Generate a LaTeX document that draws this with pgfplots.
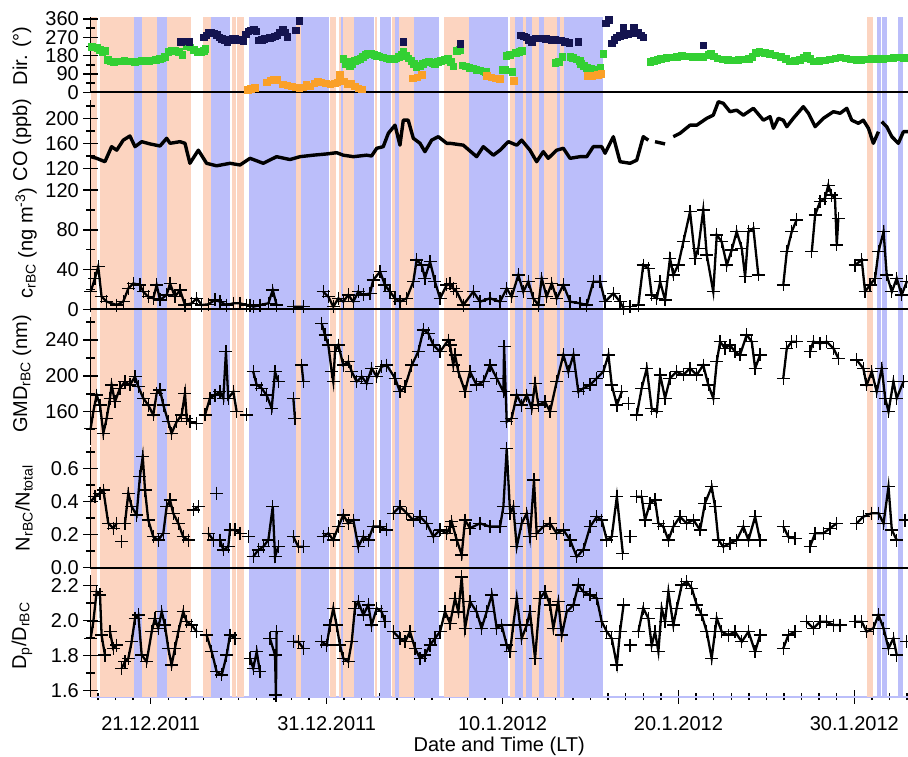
\documentclass[border=0pt]{standalone}
\usepackage{fontspec}
\setmainfont{Liberation Sans}
\usepackage{pgfplots}
\pgfplotsset{compat=1.18}
\definecolor{peach}{RGB}{252,212,192}
\definecolor{lav}{RGB}{187,190,250}
\definecolor{dgreen}{RGB}{51,208,51}
\definecolor{navy}{RGB}{20,20,80}
\definecolor{dorange}{RGB}{250,160,40}
\pgfplotsset{
  panel/.style={scale only axis, width=817.5pt, anchor=south west,
    xmin=-3.42, xmax=43.05, axis x line=none, axis y line*=left,
    y axis line style={line width=1.8pt,-}, tick style={black,line width=1.5pt},
    tick align=center, major tick length=14pt, minor tick length=9pt, clip=false,
    /pgf/number format/assume math mode=true,
    yticklabel style={anchor=east, inner sep=0pt, xshift=-4.5pt}},
  ser/.style={black, line width=2.3pt, mark=+, mark size=6.5pt,
    mark options={line width=1.3pt}, unbounded coords=jump},
  dirm/.style={only marks, mark=square*, mark size=3.3pt, mark options={draw=none}},
}
\begin{document}
\fontsize{20}{24}\selectfont
\begin{tikzpicture}
\path[use as bounding box] (0pt,0pt) rectangle (908pt,757pt);
% x axis
\begin{axis}[scale only axis, width=817.5pt, height=600pt, at={(90.5pt,60.3pt)}, anchor=south west,
  xmin=-3.42, xmax=43.05, ymin=0, ymax=1, axis y line=none, axis x line*=bottom,
  x axis line style={draw=lav, line width=2pt, -},
  xtick={0,10,20,30,40}, xticklabels={21.12.2011,31.12.2011,10.1.2012,20.1.2012,30.1.2012},
  minor xtick={-3,-2,...,43}, tick align=center, major tick length=14pt, minor tick length=7pt,
  tick style={black, line width=1.4pt},
  xticklabel style={anchor=north, yshift=-6pt},
  xlabel={Date and Time (LT)}, xlabel style={yshift=7pt}]
\end{axis}
% shading
\begin{axis}[scale only axis, width=817.5pt, height=679.7pt, at={(90.5pt,60.3pt)}, anchor=south west,
  xmin=-3.42, xmax=43.05, ymin=0, ymax=1, axis lines=none]
\addplot[fill=peach, draw=none] coordinates {(-3.38,1)(-3.05,1)} \closedcycle;
\addplot[fill=peach, draw=none] coordinates {(-2.88,1)(-0.95,1)} \closedcycle;
\addplot[fill=lav, draw=none] coordinates {(-0.95,1)(-0.50,1)} \closedcycle;
\addplot[fill=peach, draw=none] coordinates {(-0.50,1)(0.36,1)} \closedcycle;
\addplot[fill=lav, draw=none] coordinates {(0.36,1)(0.93,1)} \closedcycle;
\addplot[fill=peach, draw=none] coordinates {(0.93,1)(2.29,1)} \closedcycle;
\addplot[fill=peach, draw=none] coordinates {(2.97,1)(3.41,1)} \closedcycle;
\addplot[fill=lav, draw=none] coordinates {(3.41,1)(4.51,1)} \closedcycle;
\addplot[fill=peach, draw=none] coordinates {(4.64,1)(4.83,1)} \closedcycle;
\addplot[fill=peach, draw=none] coordinates {(4.91,1)(5.29,1)} \closedcycle;
\addplot[fill=lav, draw=none] coordinates {(5.59,1)(8.26,1)} \closedcycle;
\addplot[fill=peach, draw=none] coordinates {(8.26,1)(8.55,1)} \closedcycle;
\addplot[fill=lav, draw=none] coordinates {(8.55,1)(10.12,1)} \closedcycle;
\addplot[fill=peach, draw=none] coordinates {(10.21,1)(10.55,1)} \closedcycle;
\addplot[fill=peach, draw=none] coordinates {(10.69,1)(10.84,1)} \closedcycle;
\addplot[fill=lav, draw=none] coordinates {(10.84,1)(10.96,1)} \closedcycle;
\addplot[fill=peach, draw=none] coordinates {(10.96,1)(11.56,1)} \closedcycle;
\addplot[fill=lav, draw=none] coordinates {(11.56,1)(12.71,1)} \closedcycle;
\addplot[fill=peach, draw=none] coordinates {(12.77,1)(12.88,1)} \closedcycle;
\addplot[fill=lav, draw=none] coordinates {(13.04,1)(13.64,1)} \closedcycle;
\addplot[fill=peach, draw=none] coordinates {(13.74,1)(13.89,1)} \closedcycle;
\addplot[fill=lav, draw=none] coordinates {(13.89,1)(14.12,1)} \closedcycle;
\addplot[fill=peach, draw=none] coordinates {(14.12,1)(14.99,1)} \closedcycle;
\addplot[fill=lav, draw=none] coordinates {(14.99,1)(16.39,1)} \closedcycle;
\addplot[fill=peach, draw=none] coordinates {(16.67,1)(18.10,1)} \closedcycle;
\addplot[fill=lav, draw=none] coordinates {(18.10,1)(20.30,1)} \closedcycle;
\addplot[fill=peach, draw=none] coordinates {(20.43,1)(20.71,1)} \closedcycle;
\addplot[fill=lav, draw=none] coordinates {(20.71,1)(21.15,1)} \closedcycle;
\addplot[fill=peach, draw=none] coordinates {(21.15,1)(21.32,1)} \closedcycle;
\addplot[fill=lav, draw=none] coordinates {(21.32,1)(21.68,1)} \closedcycle;
\addplot[fill=peach, draw=none] coordinates {(21.68,1)(22.09,1)} \closedcycle;
\addplot[fill=lav, draw=none] coordinates {(22.09,1)(22.36,1)} \closedcycle;
\addplot[fill=peach, draw=none] coordinates {(22.36,1)(23.08,1)} \closedcycle;
\addplot[fill=lav, draw=none] coordinates {(23.08,1)(23.27,1)} \closedcycle;
\addplot[fill=peach, draw=none] coordinates {(23.27,1)(23.50,1)} \closedcycle;
\addplot[fill=lav, draw=none] coordinates {(23.50,1)(25.70,1)} \closedcycle;
\addplot[fill=peach, draw=none] coordinates {(40.71,1)(41.05,1)} \closedcycle;
\addplot[fill=lav, draw=none] coordinates {(41.27,1)(41.50,1)} \closedcycle;
\addplot[fill=lav, draw=none] coordinates {(41.58,1)(41.84,1)} \closedcycle;
\addplot[fill=lav, draw=none] coordinates {(42.48,1)(42.75,1)} \closedcycle;
\end{axis}
% Dir panel
\begin{axis}[panel, at={(90.5pt,664.7pt)}, height=75.3pt, ymin=0, ymax=369.8,
  ytick={0,90,180,270,360}, minor ytick={45,135,225,315},
  yticklabel style={xshift=0pt}]
\addplot[dirm, dgreen] coordinates {(-3.35,224)(-3.2,222)(-3.05,220)(-2.9,208)(-2.75,200)(-2.6,205)(-2.45,160)(-2.3,152)(-2.1,150)(-1.9,152)(-1.7,153)(-1.5,154)(-1.3,153)(-1.1,152)(-0.9,150)(-0.7,152)(-0.5,154)(-0.3,155)(-0.1,156)(0.1,158)(0.3,160)(0.5,164)(0.65,168)(0.8,175)(1.0,200)(1.2,205)(1.4,205)(1.6,200)(1.8,185)(2.05,230)(2.25,222)(2.45,210)(2.65,200)(2.85,198)(3.0,205)(3.1,215)
(10.95,165)(11.05,140)(11.2,150)(11.3,130)(11.45,140)(11.6,155)(11.75,160)(11.9,165)(12.05,175)(12.2,185)(12.35,190)(12.5,192)(12.7,185)(12.85,180)(13.0,178)(13.2,172)(13.4,168)(13.6,166)(13.8,165)(13.95,168)(14.1,175)(14.25,185)(14.35,200)(14.5,180)(14.65,168)(14.8,155)(14.95,140)(15.1,125)(15.3,130)(15.45,140)(15.6,148)(15.8,150)(16.0,145)(16.15,140)(16.3,150)(16.5,155)(16.7,160)(16.9,165)(17.05,150)(17.2,128)(17.4,205)(17.55,208)(17.7,134)(17.9,128)(18.1,122)(18.3,118)(18.5,112)(18.7,108)(18.9,104)(19.05,100)
(20.0,110)(20.15,110)(20.2,180)(20.4,185)(20.55,100)(20.75,195)(20.95,200)(21.1,205)
(23.0,145)(23.2,150)(23.4,175)(23.85,175)(24.0,170)(24.2,162)(24.4,155)(24.45,140)(24.6,130)(24.8,120)(25.0,115)(25.2,105)(25.4,110)(25.55,120)(25.72,190)
(28.4,150)(28.6,155)(28.8,160)(29.0,165)(29.3,170)(29.6,172)(29.9,175)(30.2,180)(30.5,178)(30.8,175)(31.1,175)(31.4,176)(31.7,185)(31.85,190)(32.0,178)(32.2,168)(32.5,162)(32.8,160)(33.1,158)(33.4,160)(33.7,163)(34.0,166)(34.2,175)(34.4,195)(34.6,198)(34.9,195)(35.2,190)(35.5,182)(35.8,175)(36.1,165)(36.3,152)(36.6,155)(36.9,160)(37.1,170)(37.3,182)(37.5,165)(37.7,152)(38.0,155)(38.3,158)(38.6,162)(38.9,168)(39.2,172)(39.5,168)(39.8,162)(40.1,160)(40.4,160)(40.7,162)(41.0,164)(41.3,165)(41.6,166)(41.9,168)(42.2,170)(42.5,173)(42.8,170)(43.0,168)};
\addplot[dirm, navy] coordinates {(1.7,248)(1.95,250)(2.2,248)
(3.0,270)(3.15,280)(3.3,292)(3.45,296)(3.6,290)(3.75,282)(3.9,270)(4.05,262)(4.2,255)(4.35,245)(4.5,258)(4.65,265)(4.8,262)(4.95,258)(5.1,255)(5.25,250)(5.4,285)(5.55,300)(5.7,305)(5.85,308)(6.0,300)(6.15,255)(6.3,258)(6.45,262)(6.6,265)(6.75,268)(6.9,270)(7.05,275)(7.2,280)(7.35,295)(7.5,310)(7.65,295)(7.75,272)(8.25,305)(8.45,352)
(14.35,248)(17.6,240)
(21.05,281)(21.2,275)(21.35,270)(21.5,258)(21.65,249)(21.85,265)(22.05,265)(22.25,265)(22.45,262)(22.6,260)(22.8,258)(23.0,257)(23.3,255)(23.55,249)(23.8,244)(24.3,249)
(25.85,339)(26.05,356)(26.2,241)(26.35,258)(26.5,270)(26.65,278)(26.85,320)(26.9,282)(27.1,288)(27.3,290)(27.45,318)(27.55,296)(27.7,292)(27.85,280)(28.0,270)
(31.4,232)};
\addplot[dirm, dorange] coordinates {(5.5,12)(5.7,18)(5.9,22)(6.6,50)(6.8,60)(7.0,65)(7.2,62)(7.5,40)(7.75,35)(8.0,30)(8.25,25)(8.45,20)(8.65,25)(8.85,40)(9.05,30)(9.3,45)(9.5,55)(9.7,50)(9.95,45)(10.2,40)(10.45,45)(10.6,50)(10.76,85)(11.0,55)(11.2,40)(11.4,45)(11.6,30)(11.8,20)(12.0,15)
(14.9,70)(15.15,75)(15.4,85)
(19.1,80)(19.35,75)(19.6,70)(19.85,68)(20.65,58)
(24.85,80)(25.1,82)(25.4,85)(25.6,90)};
\addplot[black, line width=2.2pt] coordinates {(-3.42,0)(43.05,0)};
\end{axis}
% CO panel
\begin{axis}[panel, at={(90.5pt,585pt)}, height=72pt, ymin=114.1, ymax=229.3,
  ytick={120,160,200}, minor ytick={140,180,220},
  yticklabel style={xshift=0pt}]
\addplot[black, line width=3.4pt, unbounded coords=jump, line join=round] coordinates {(-3.41,138.6)(-3.07,136)(-2.60,130.6)(-2.22,154.6)(-1.93,149)(-1.56,165)(-1.18,171.7)(-0.89,154.6)(-0.51,162.6)(-0.04,159)(0.53,155.7)(0.91,168)(1.10,160)(1.67,162.6)(1.95,160)(2.23,128)(2.71,149)(3.18,128)(3.75,124)(4.51,128)(5.08,125.3)(5.65,136)(6.40,128)(7.16,138.6)(7.92,134)(8.49,138.6)(9.24,141)(10.01,143)(10.57,145)(10.95,141)(11.52,138.6)(12.28,141)(12.56,139.7)(12.85,152)(13.22,154.6)(13.51,176)(13.89,189)(14.17,157)(14.36,197)(14.64,197)(14.93,168)(15.31,160)(15.59,146.6)(15.97,165)(16.35,170.6)(16.83,160)(17.02,160)(17.77,157)(18.53,138.6)(18.91,154.6)(19.48,141)(19.86,149)(20.33,162.6)(20.81,157)(21.09,165)(21.56,149)(21.94,130.6)(22.32,146.6)(22.60,136)(23.08,149)(23.46,152)(23.84,136)(24.41,138.6)(24.79,138.6)(25.16,154.6)(25.64,154.6)(25.83,144)(26.30,170.6)(26.68,130.6)(27.25,128)(27.63,133)(28.00,170.6)(28.29,165)(28.4,nan)(28.67,162.6)(29.24,159)(29.4,nan)(29.71,170.6)(30.09,176)(30.66,189)(31.04,189)(31.61,200)(31.98,205)(32.27,226.6)(32.55,224)(32.93,210.6)(33.31,213)(33.69,205)(34.26,216)(34.83,197)(35.21,202.6)(35.40,184)(35.68,200)(35.96,197)(36.16,186.6)(36.53,200)(37.10,218.6)(37.39,208)(37.77,186.6)(38.24,200)(38.81,210.6)(39.19,208)(39.57,216)(39.85,197)(40.23,192)(40.51,197)(40.80,184)(41.08,160)(41.37,178.6)(41.45,nan)(41.56,194.6)(41.84,186.6)(42.13,170.6)(42.50,160)(42.79,178.6)(43.05,178.6)};
\end{axis}
% c_rBC panel
\begin{axis}[panel, at={(90.5pt,444.7pt)}, height=140.3pt, ymin=-3.02, ymax=138.3,
  ytick={0,40,80,120}, minor ytick={20,60,100}]
\addplot[ser] coordinates {(-3.41,17.7)(-3.17,31)(-2.98,43)(-2.79,12.7)(-2.50,7.7)(-1.93,4.3)(-1.56,7.7)(-1.27,21)(-0.99,26)(-0.61,24.5)(-0.42,17.7)(-0.14,12.7)(0.15,11)(0.34,24.5)(0.53,9.4)(0.91,14.4)(1.10,26)(1.38,12.7)(1.67,19.4)(1.95,4.3)(2.33,6)(2.62,11)(2.90,4.3)(3.27,5)(3.66,9.4)(3.94,7.7)(4.32,4.3)(4.70,6)(5.08,6)(5.46,4.3)(5.65,4.3)(5.83,2.6)(6.21,4.3)(6.69,6)(6.94,19.4)(7.16,4.3)(7.3,nan)(8.11,2.6)(8.68,2.6)(8.8,nan)(9.81,17.7)(10.10,12.7)(10.38,2.6)(10.67,11)(10.95,7.7)(11.23,14.4)(11.52,7.7)(11.80,17.7)(12.09,14.4)(12.47,16)(12.65,29.5)(13.04,37.9)(13.32,24.5)(13.60,17.7)(13.89,11)(14.17,7.7)(14.55,11)(14.93,27.8)(15.12,49.7)(15.41,44.6)(15.59,31.2)(15.88,48)(16.16,27.8)(16.45,11)(16.83,24.5)(17.02,26)(17.20,21)(17.40,17.7)(17.77,4.3)(18.34,17.7)(18.72,7.7)(19.29,11)(19.86,7.7)(20.24,21)(20.52,12.7)(20.90,34.6)(21.18,17.7)(21.47,27.8)(21.75,11)(22.04,4.3)(22.23,31.2)(22.51,12.7)(22.80,26)(23.08,11)(23.46,24.5)(23.84,7.7)(24.41,6)(24.79,4.3)(25.16,27.8)(25.55,27.8)(25.83,7.7)(26.30,16)(26.68,7.7)(26.88,1)(27.0,nan)(27.25,2.6)(27.4,nan)(27.72,4.3)(28.00,44.6)(28.29,41.3)(28.48,14.4)(28.77,11)(28.96,27.8)(29.24,9.4)(29.52,51.4)(29.71,34.6)(29.99,44.6)(30.28,68)(30.66,98.3)(30.95,51.4)(31.13,61.5)(31.41,100)(31.61,54.7)(31.98,17.7)(32.18,74.9)(32.46,68)(32.75,44.6)(33.03,59.7)(33.31,78.2)(33.60,61.5)(33.79,32.8)(33.98,78.2)(34.26,81.6)(34.54,34.6)(34.8,nan)(35.96,24.5)(36.16,58)(36.44,78.2)(36.72,90)(36.9,nan)(37.58,58)(37.77,95)(38.05,108.4)(38.33,111.8)(38.52,125)(38.71,115)(38.90,111.8)(39.00,64.8)(39.09,91.7)(39.3,nan)(40.04,44.6)(40.42,49.7)(40.61,17.7)(40.89,24.5)(41.18,31.2)(41.37,58)(41.66,78.2)(41.84,34.6)(42.13,17.7)(42.41,31.2)(42.69,14.4)(42.98,27.8)};
\addplot[black, line width=2.2pt] coordinates {(-3.42,0)(43.05,0)};
\end{axis}
% GMD panel
\begin{axis}[panel, at={(90.5pt,312pt)}, height=128pt, ymin=122.8, ymax=265.7,
  ytick={160,200,240}, minor ytick={140,180,220,260}]
\addplot[ser] coordinates {(-3.41,141.4)(-3.26,160)(-3.07,178.6)(-2.88,167.4)(-2.69,135.9)(-2.50,152.6)(-2.31,175)(-2.22,189.8)(-2.03,171.1)(-1.75,186)(-1.46,193.5)(-1.18,189.8)(-0.89,199)(-0.70,187.9)(-0.42,175)(-0.14,167.4)(0.15,156.3)(0.34,180.5)(0.53,184.2)(0.72,167.4)(1.00,148.8)(1.19,135.9)(1.48,148.8)(1.76,156.3)(1.95,180.5)(2.05,152.6)(2.23,148.8)(2.62,147)(2.8,nan)(3.09,156.3)(3.37,175)(3.66,178.6)(3.94,182.3)(4.13,175)(4.28,226.9)(4.41,175)(4.70,182.3)(4.89,160)(5.1,nan)(5.46,156.3)(5.6,nan)(5.83,204.6)(6.03,189.8)(6.31,186)(6.59,178.6)(6.88,163.7)(7.07,204.6)(7.25,193.5)(7.5,nan)(8.11,175)(8.20,152.6)(8.4,nan)(8.58,212)(8.68,193.5)(9.0,nan)(9.72,258.6)(9.91,245.6)(10.10,234.4)(10.29,204.6)(10.38,193.5)(10.48,226.9)(10.67,234.4)(10.95,212)(11.23,215.8)(11.43,204.6)(11.71,193.5)(12.00,199)(12.28,191.7)(12.56,208.4)(12.85,199)(13.13,210.2)(13.42,212)(13.89,197.3)(14.17,182.3)(14.46,187.9)(14.84,212)(15.21,226.9)(15.50,251.2)(15.78,247.5)(16.07,234.4)(16.45,226.9)(16.92,240)(17.02,234.4)(17.20,212)(17.30,223.3)(17.49,204.6)(17.87,182.3)(18.15,204.6)(18.53,189.8)(18.91,193.5)(19.29,212)(19.67,197.3)(20.05,182.3)(20.09,232.5)(20.24,148.8)(20.52,152.6)(20.81,178.6)(21.09,167.4)(21.38,178.6)(21.66,163.7)(21.85,191.7)(22.04,167.4)(22.42,171.1)(22.70,160)(23.08,193.5)(23.46,223.3)(23.74,204.6)(24.03,223.3)(24.31,182.3)(24.59,186)(24.98,189.8)(25.36,197.3)(25.73,204.6)(26.02,223.3)(26.21,189.8)(26.50,167.4)(26.78,182.3)(26.9,nan)(27.15,169.3)(27.3,nan)(27.63,156.3)(27.91,186)(28.20,208.4)(28.48,163.7)(28.77,160)(28.96,201)(29.24,175)(29.52,197.3)(29.90,204.6)(30.28,201)(30.66,208.4)(31.04,201)(31.41,212)(31.70,189.8)(31.98,175)(32.18,215.8)(32.37,238.1)(32.65,230.7)(32.93,234.4)(33.22,226.9)(33.50,223.3)(33.88,245.6)(34.17,238.1)(34.36,208.4)(34.64,223.3)(34.8,nan)(35.96,197.3)(36.16,230.7)(36.44,238.1)(36.72,238.1)(36.9,nan)(37.48,226.9)(37.67,238.1)(38.05,236.3)(38.43,238.1)(38.81,230.7)(39.09,219.6)(39.3,nan)(40.13,217.7)(40.51,208.4)(40.70,189.8)(40.99,204.6)(41.27,182.3)(41.56,208.4)(41.75,175)(41.94,160)(42.22,193.5)(42.41,175)(42.79,193.5)};
\end{axis}
% N ratio panel
\begin{axis}[panel, at={(90.5pt,189.3pt)}, height=120.7pt, ymin=0, ymax=0.729,
  ytick={0,0.2,0.4,0.6}, minor ytick={0.1,0.3,0.5,0.7},
  yticklabel style={/pgf/number format/.cd, fixed, fixed zerofill, precision=1}]
\addplot[ser] coordinates {(-3.41,0.399)(-3.17,0.429)(-2.88,0.45)(-2.69,0.469)(-2.41,0.268)(-2.13,0.238)(-1.93,0.268)(-1.8,nan)(-1.65,0.157)(-1.55,nan)(-1.46,0.268)(-1.27,0.45)(-1.08,0.369)(-0.80,0.318)(-0.61,0.55)(-0.45,0.671)(-0.32,0.469)(-0.14,0.288)(0.15,0.187)(0.43,0.167)(0.72,0.208)(0.91,0.369)(1.10,0.409)(1.28,0.329)(1.57,0.268)(1.85,0.187)(2.14,0.167)(2.3,nan)(2.42,0.349)(2.71,0.369)(2.9,nan)(3.27,0.208)(3.56,0.167)(3.65,nan)(3.75,0.45)(3.8,nan)(3.94,0.167)(4.13,0.107)(4.41,0.127)(4.51,0.228)(4.79,0.228)(5.08,0.208)(5.3,nan)(5.55,0.187)(5.7,nan)(5.83,0.066)(6.12,0.107)(6.40,0.127)(6.69,0.167)(6.94,0.369)(7.07,0.066)(7.25,0.127)(7.5,nan)(8.11,0.187)(8.39,0.127)(8.68,0.127)(9.0,nan)(9.81,0.187)(10.10,0.208)(10.38,0.167)(10.67,0.248)(10.95,0.318)(11.23,0.268)(11.52,0.288)(11.80,0.127)(12.09,0.187)(12.37,0.167)(12.65,0.248)(13.04,0.248)(13.42,0.228)(13.6,nan)(13.79,0.329)(14.17,0.369)(14.55,0.329)(14.93,0.288)(15.31,0.308)(15.69,0.268)(16.07,0.187)(16.45,0.228)(16.83,0.208)(17.02,0.248)(17.11,0.278)(17.40,0.167)(17.68,0.077)(17.87,0.288)(18.15,0.238)(18.72,0.268)(19.29,0.248)(19.86,0.248)(20.05,0.369)(20.24,0.72)(20.43,0.329)(20.61,0.369)(20.81,0.127)(21.09,0.268)(21.38,0.329)(21.56,0.187)(21.79,0.53)(21.94,0.208)(22.32,0.248)(22.70,0.268)(23.08,0.208)(23.46,0.228)(23.84,0.167)(24.22,0.066)(24.59,0.107)(24.98,0.248)(25.36,0.308)(25.64,0.288)(25.93,0.167)(26.21,0.187)(26.50,0.429)(26.84,0.087)(27.0,nan)(27.25,0.187)(27.4,nan)(27.63,0.429)(27.91,0.429)(28.10,0.288)(28.39,0.389)(28.67,0.409)(28.86,0.268)(29.14,0.248)(29.43,0.167)(29.71,0.248)(30.09,0.308)(30.47,0.268)(30.85,0.288)(31.23,0.228)(31.51,0.389)(31.89,0.489)(32.08,0.369)(32.27,0.167)(32.55,0.127)(32.93,0.147)(33.31,0.167)(33.69,0.248)(33.98,0.167)(34.36,0.308)(34.64,0.167)(34.8,nan)(35.96,0.248)(36.25,0.187)(36.63,0.177)(36.9,nan)(37.48,0.127)(37.77,0.208)(38.24,0.208)(38.62,0.238)(39.00,0.268)(39.3,nan)(40.13,0.268)(40.51,0.308)(40.99,0.329)(41.37,0.329)(41.66,0.268)(41.94,0.489)(42.13,0.228)(42.41,0.167)(42.6,nan)(42.88,0.288)};
\addplot[black, line width=2.2pt] coordinates {(-3.42,0)(43.05,0)};
\end{axis}
% Dp panel
\begin{axis}[panel, at={(90.5pt,60.3pt)}, height=121.7pt, ymin=1.566, ymax=2.261,
  ytick={1.6,1.8,2.0,2.2}, minor ytick={1.7,1.9,2.1},
  yticklabel style={/pgf/number format/.cd, fixed, fixed zerofill, precision=1}]
\addplot[ser] coordinates {(-3.41,1.899)(-3.26,1.994)(-3.07,2.166)(-2.88,2.147)(-2.79,1.918)(-2.60,1.804)(-2.45,nan)(-2.31,1.937)(-2.13,1.842)(-1.93,1.861)(-1.8,nan)(-1.65,1.728)(-1.46,1.766)(-1.27,1.785)(-1.08,1.88)(-0.89,2.014)(-0.70,2.033)(-0.51,1.804)(-0.23,1.766)(0.06,1.937)(0.24,2.014)(0.43,1.957)(0.63,2.051)(0.81,1.975)(1.00,1.842)(1.19,1.747)(1.38,1.842)(1.57,1.937)(1.85,2.051)(2.05,1.994)(2.33,1.975)(2.62,1.937)(2.8,nan)(3.18,1.918)(3.47,1.823)(3.75,1.709)(4.04,1.69)(4.32,1.804)(4.51,1.918)(4.79,1.899)(5.0,nan)(5.65,1.785)(5.83,1.728)(6.03,1.823)(6.21,1.709)(6.4,nan)(6.78,1.899)(7.07,1.804)(7.12,1.575)(7.16,1.937)(7.4,nan)(8.11,1.88)(8.39,1.88)(8.68,1.842)(9.0,nan)(9.72,1.88)(10.01,1.861)(10.19,1.975)(10.38,2.071)(10.57,1.975)(10.76,1.861)(10.95,1.785)(11.23,1.766)(11.43,1.88)(11.61,2.071)(11.80,2.109)(12.09,2.033)(12.37,2.09)(12.56,1.975)(12.85,2.071)(13.13,2.051)(13.32,1.994)(13.6,nan)(13.79,1.937)(14.17,1.899)(14.46,1.88)(14.74,1.937)(15.03,1.842)(15.31,1.785)(15.59,1.804)(15.88,1.861)(16.16,1.899)(16.45,1.937)(16.73,2.051)(17.02,1.985)(17.30,2.128)(17.49,2.05)(17.68,2.25)(17.87,1.957)(18.15,2.109)(18.53,2.051)(18.81,1.957)(19.10,2.051)(19.39,2.147)(19.67,1.957)(19.95,1.975)(20.24,1.861)(20.43,1.823)(20.61,1.975)(20.81,2.128)(21.09,1.899)(21.38,1.975)(21.56,2.051)(21.85,1.785)(22.13,2.128)(22.42,2.166)(22.70,2.09)(22.89,1.957)(23.17,2.109)(23.37,1.918)(23.65,2.051)(24.03,2.09)(24.31,2.204)(24.59,2.166)(24.98,2.147)(25.36,2.128)(25.64,1.994)(25.93,1.937)(26.21,1.899)(26.50,1.747)(26.68,1.937)(26.88,2.09)(27.0,nan)(27.25,1.861)(27.4,nan)(27.72,1.937)(28.00,2.071)(28.29,2.014)(28.48,1.861)(28.67,1.937)(28.86,1.823)(29.05,2.071)(29.24,1.994)(29.43,2.166)(29.71,1.975)(29.90,2.071)(30.19,2.204)(30.47,2.223)(30.76,2.185)(31.04,2.09)(31.32,2.033)(31.61,1.937)(31.89,1.785)(32.08,1.937)(32.18,2.014)(32.46,1.937)(32.84,1.918)(33.22,1.937)(33.60,1.88)(33.98,1.937)(34.36,1.823)(34.64,1.918)(34.8,nan)(35.96,1.842)(36.25,1.918)(36.63,1.937)(36.9,nan)(37.29,1.994)(37.67,1.957)(38.05,1.994)(38.43,1.994)(38.81,1.975)(39.19,1.975)(39.4,nan)(40.04,1.994)(40.42,1.994)(40.70,1.937)(41.08,1.957)(41.37,2.033)(41.66,1.957)(41.94,1.842)(42.22,1.899)(42.41,1.804)(42.6,nan)(42.98,1.88)};
\end{axis}
% y labels
\node[rotate=90] at (22pt,701pt) {Dir. (°)};
\node[rotate=90] at (22pt,617pt) {CO (ppb)};
\node[rotate=90] at (26pt,514pt) {c\textsubscript{rBC} (ng m\textsuperscript{-3})};
\node[rotate=90] at (22pt,383pt) {GMD\textsubscript{rBC} (nm)};
\node[rotate=90] at (24pt,249pt) {N\textsubscript{rBC}/N\textsubscript{total}};
\node[rotate=90] at (22pt,121pt) {D\textsubscript{p}/D\textsubscript{rBC}};
\end{tikzpicture}
\end{document}
